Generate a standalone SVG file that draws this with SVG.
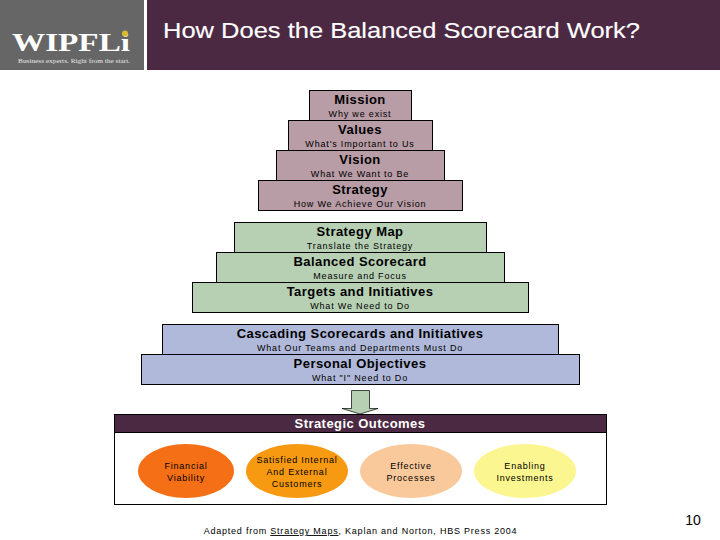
<svg xmlns="http://www.w3.org/2000/svg" width="720" height="540" viewBox="0 0 720 540">
<style>
text{font-family:"Liberation Sans",Arial,sans-serif;text-anchor:middle;fill:#000}
.t{font-size:13px;font-weight:bold;letter-spacing:.45px}
.s{font-size:9px;letter-spacing:.82px}
.box{stroke:#000;stroke-width:1}
.r{fill:#b89ca6}.g{fill:#b7d0b4}.b{fill:#b0b9d9}
.e{font-size:9px;letter-spacing:.78px}
</style>
<rect width="720" height="540" fill="#fff"/>
<g id="header">
<rect x="0" y="0" width="144" height="70" fill="#666"/>
<rect x="147" y="0" width="573" height="70" fill="#4b2942"/>
<text x="71" y="50.500" style="font-family:'Liberation Serif',serif;font-weight:bold;font-size:26px;fill:#fff" textLength="118" lengthAdjust="spacingAndGlyphs">WIPFLi</text>
<circle cx="125" cy="33.500" r="3" fill="#d9b92f"/>
<text x="74" y="62.500" style="font-family:'Liberation Serif',serif;font-size:6.500px;fill:#e6e6e6" textLength="112" lengthAdjust="spacingAndGlyphs">Business experts. Right from the start.</text>
<text x="401.500" y="38" style="font-size:22px;fill:#fff;stroke:#fff;stroke-width:.15" textLength="477" lengthAdjust="spacingAndGlyphs">How Does the Balanced Scorecard Work?</text>
</g>
<g id="mission"><rect class="box r" x="309.500" y="90.500" width="102" height="30"/><text class="t" x="360" y="104">Mission</text><text class="s" x="360" y="117">Why we exist</text></g>
<g id="values"><rect class="box r" x="288.500" y="120.500" width="144" height="30"/><text class="t" x="360" y="134">Values</text><text class="s" x="360" y="147">What's Important to Us</text></g>
<g id="vision"><rect class="box r" x="276.500" y="150.500" width="168" height="30"/><text class="t" x="360" y="164">Vision</text><text class="s" x="360" y="177">What We Want to Be</text></g>
<g id="strategy"><rect class="box r" x="258.500" y="180.500" width="204" height="30"/><text class="t" x="360" y="194">Strategy</text><text class="s" x="360" y="207">How We Achieve Our Vision</text></g>
<g id="strategy-map"><rect class="box g" x="234.500" y="222.500" width="252" height="30"/><text class="t" x="360" y="236">Strategy Map</text><text class="s" x="360" y="249">Translate the Strategy</text></g>
<g id="balanced-scorecard"><rect class="box g" x="216.500" y="252.500" width="288" height="30"/><text class="t" x="360" y="266">Balanced Scorecard</text><text class="s" x="360" y="279">Measure and Focus</text></g>
<g id="targets"><rect class="box g" x="192.500" y="282.500" width="336" height="30"/><text class="t" x="360" y="296">Targets and Initiatives</text><text class="s" x="360" y="309">What We Need to Do</text></g>
<g id="cascading"><rect class="box b" x="162.500" y="324.500" width="396" height="30"/><text class="t" x="360" y="338">Cascading Scorecards and Initiatives</text><text class="s" x="360" y="351">What Our Teams and Departments Must Do</text></g>
<g id="personal"><rect class="box b" x="141.500" y="354.500" width="438" height="30"/><text class="t" x="360" y="368">Personal Objectives</text><text class="s" x="360" y="381">What "I" Need to Do</text></g>
<g id="connectors"><path d="M351.500 390.500H369.500V408.500H378L360 414L342 408.500H351.500Z" fill="#b7d0b4" stroke="#000" stroke-width=".7"/></g>
<g id="outcomes">
<rect x="114.500" y="432.500" width="492" height="72" fill="#fff" stroke="#000"/>
<rect x="114.500" y="414.500" width="492" height="18" fill="#4b2942" stroke="#000"/>
<text class="t" x="360" y="428" style="fill:#fff">Strategic Outcomes</text>
</g>
<g id="financial"><ellipse cx="186" cy="471" rx="48" ry="27" fill="#f46f16"/><text class="e" x="186" y="469">Financial</text><text class="e" x="186" y="481">Viability</text></g>
<g id="satisfied"><ellipse cx="297" cy="471" rx="51" ry="27" fill="#f79a12"/><text class="e" x="297" y="463">Satisfied Internal</text><text class="e" x="297" y="475">And External</text><text class="e" x="297" y="487">Customers</text></g>
<g id="effective"><ellipse cx="411" cy="471" rx="51" ry="27" fill="#fac99b"/><text class="e" x="411" y="469">Effective</text><text class="e" x="411" y="481">Processes</text></g>
<g id="enabling"><ellipse cx="525" cy="471" rx="51" ry="27" fill="#fbf68f"/><text class="e" x="525" y="469">Enabling</text><text class="e" x="525" y="481">Investments</text></g>
<g id="footer">
<text class="e" x="360.500" y="534">Adapted from <tspan text-decoration="underline">Strategy Maps</tspan>, Kaplan and Norton, HBS Press 2004</text>
<text x="693" y="525" style="font-size:14px">10</text>
</g>
</svg>
